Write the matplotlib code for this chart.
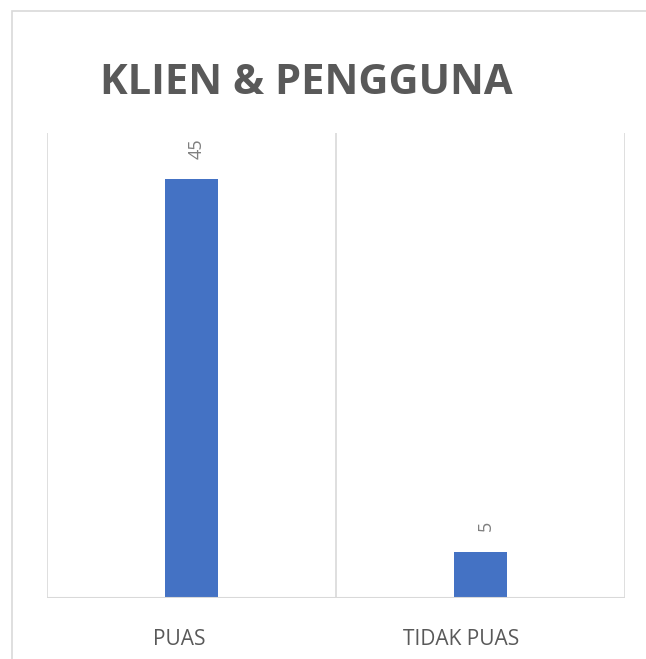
import matplotlib.pyplot as plt
from matplotlib.patches import Rectangle

categories = ['PUAS', 'TIDAK PUAS']
values = [45, 5]

fig = plt.figure(figsize=(6.46, 6.59), dpi=100)
ax = fig.add_axes([47 / 646, 1 - 598 / 659, 578 / 646, 465 / 659])

# outer frame of the chart (right and bottom are cut off in the original)
fig.patches.append(Rectangle((12 / 646, -0.1), 1.2, 1 - 11 / 659 + 0.1,
                             transform=fig.transFigure, fill=False,
                             edgecolor='#d9d9d9', linewidth=1.2))

x = list(range(len(categories)))
ax.bar(x, values, width=0.18, color='#4472C4', zorder=3)

# rotated value labels above the bars
for xi, v in zip(x, values):
    ax.annotate(str(v), xy=(xi, v), xytext=(3.5, 15), textcoords='offset points',
                rotation=90, ha='center', va='bottom', fontsize=13,
                color='#7f7f7f', family='Open Sans')

# category labels sit a little left of the bar centres
for xi, lab, dx in zip(x, categories, [-9, -14]):
    ax.annotate(lab, xy=(xi, 0), xytext=(dx, -30), textcoords='offset points',
                ha='center', va='center', fontsize=15, color='#595959',
                family='Open Sans')

ax.set_xlim(-0.5, 1.5)
ax.set_ylim(0, 50)
for gx in [-0.5, 0.5, 1.5]:
    ax.axvline(gx, color='#d9d9d9', linewidth=1.2, zorder=1)
ax.axhline(0, color='#d9d9d9', linewidth=1.5, zorder=4)

for s in ax.spines.values():
    s.set_visible(False)
ax.set_yticks([])
ax.set_xticks([])

fig.text(306 / 646, 1 - 84 / 659, 'KLIEN & PENGGUNA', ha='center', va='center',
         fontsize=30, fontweight='bold', color='#595959', family='Open Sans')

fig.savefig('out.png', dpi=100)
